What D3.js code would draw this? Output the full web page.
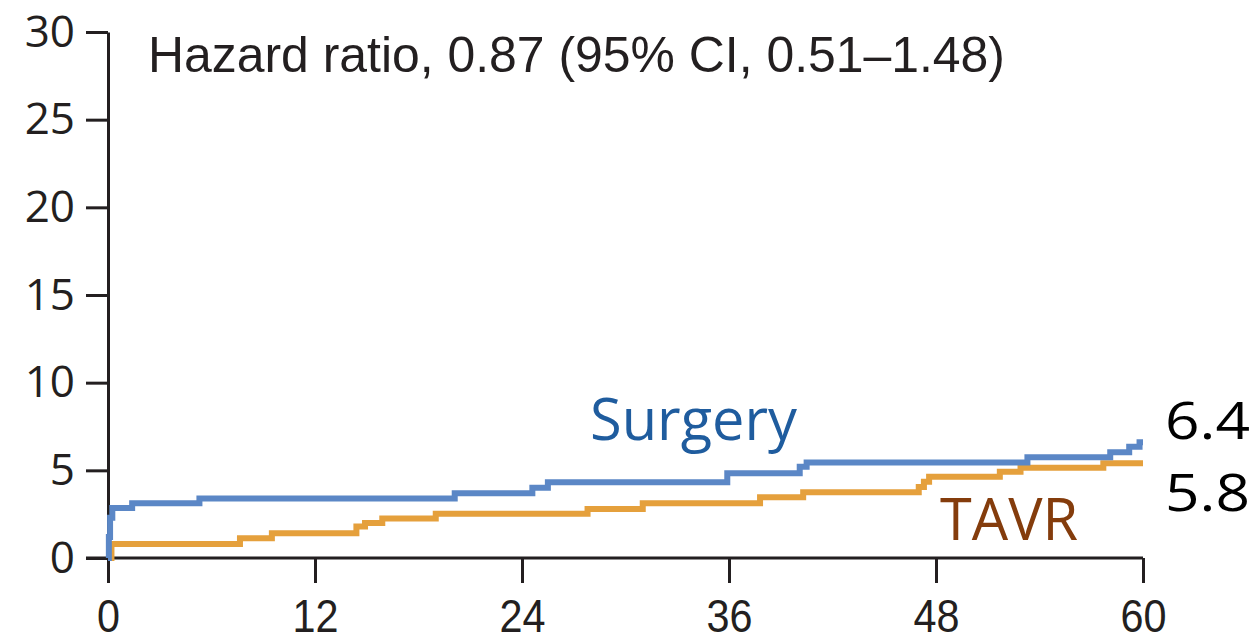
<!DOCTYPE html>
<html>
<head>
<meta charset="utf-8">
<script src="https://cdn.jsdelivr.net/npm/d3@7"></script>
<style>
  html, body { margin: 0; padding: 0; background: #fff; }
  svg { display: block; }
</style>
</head>
<body>
<svg id="chart" width="1257" height="642"></svg>
<script>
// ---- data ----
const xTicks = [0, 12, 24, 36, 48, 60];
const yTicks = [0, 5, 10, 15, 20, 25, 30];

const surgeryMonths = [0, 0.05, 0.12, 0.25, 1.4, 5.3, 20.1, 24.6, 25.5, 35.9, 40.1, 40.5, 53.3, 58.1, 59.2, 59.8, 60];
const surgeryValues = [0, 1.2, 2.3, 2.85, 3.12, 3.4, 3.69, 4.01, 4.32, 4.83, 5.21, 5.44, 5.74, 6.03, 6.35, 6.6, 6.6];

const tavrMonths = [0, 0.2, 7.65, 9.5, 14.4, 14.9, 15.9, 19.0, 27.8, 31.0, 37.8, 40.3, 47.0, 47.3, 47.6, 51.7, 52.9, 57.7, 60];
const tavrValues = [0, 0.8, 1.12, 1.41, 1.8, 2.0, 2.26, 2.53, 2.8, 3.12, 3.46, 3.75, 4.05, 4.35, 4.64, 4.92, 5.15, 5.4, 5.4];

const hazardText = "Hazard ratio, 0.87 (95% CI, 0.51\u20131.48)";
const surgeryLabel = "Surgery";
const tavrLabel = "TAVR";
const surgeryEnd = "6.4";
const tavrEnd = "5.8";

// ---- chart ----
const svg = d3.select("#chart");
const x = d3.scaleLinear().domain([0, 60]).range([108, 1143]);
const y = d3.scaleLinear().domain([0, 30]).range([558, 32]);
const axisColor = "#231f20";

// y axis
const yAxis = svg.append("g")
  .attr("transform", `translate(${x(0)},0)`)
  .call(d3.axisLeft(y).tickValues(yTicks).tickSize(22).tickSizeOuter(0).tickPadding(11));
yAxis.select(".domain").attr("stroke", axisColor).attr("stroke-width", 3);
yAxis.selectAll(".tick line").attr("stroke", axisColor).attr("stroke-width", 3);
yAxis.selectAll(".tick text")
  .attr("fill", "#231f20")
  .style("font-family", "'Open Sans', sans-serif")
  .style("font-size", "44px");

// x axis
const xAxis = svg.append("g")
  .attr("transform", `translate(0,${y(0)})`)
  .call(d3.axisBottom(x).tickValues(xTicks).tickSize(25).tickSizeOuter(0).tickPadding(0));
xAxis.select(".domain").remove();
xAxis.selectAll(".tick line").attr("stroke", axisColor).attr("stroke-width", 3);
xAxis.selectAll(".tick text")
  .attr("y", 74).attr("dy", 0)
  .attr("fill", "#231f20")
  .attr("textLength", d => String(d).length * 23)
  .attr("lengthAdjust", "spacingAndGlyphs")
  .style("font-family", "'Liberation Sans', Arial, sans-serif")
  .style("font-size", "46px");
svg.append("line")
  .attr("x1", x(0) - 22).attr("x2", x(60))
  .attr("y1", y(0)).attr("y2", y(0))
  .attr("stroke", axisColor).attr("stroke-width", 3);

// curves
const line = d3.line().curve(d3.curveStepAfter).x(d => x(d[0])).y(d => y(d[1]));
svg.append("path")
  .datum(d3.zip(tavrMonths, tavrValues))
  .attr("d", line)
  .attr("fill", "none")
  .attr("stroke", "#e5a03c")
  .attr("stroke-width", 6);
svg.append("path")
  .datum(d3.zip(surgeryMonths, surgeryValues))
  .attr("d", line)
  .attr("fill", "none")
  .attr("stroke", "#5b87c6")
  .attr("stroke-width", 6);

// texts
svg.append("text")
  .attr("x", 148).attr("y", 72)
  .attr("textLength", 857).attr("lengthAdjust", "spacingAndGlyphs")
  .attr("fill", "#231f20")
  .style("font-family", "'Liberation Sans', Arial, sans-serif")
  .style("font-size", "50px")
  .text(hazardText);

svg.append("text")
  .attr("x", 590).attr("y", 440)
  .attr("fill", "#1f5c9e")
  .attr("textLength", 207).attr("lengthAdjust", "spacingAndGlyphs")
  .style("font-family", "'Open Sans', sans-serif")
  .style("font-size", "58px")
  .text(surgeryLabel);

svg.append("text")
  .attr("x", 940).attr("y", 540)
  .attr("fill", "#843c0c")
  .attr("textLength", 138).attr("lengthAdjust", "spacingAndGlyphs")
  .style("font-family", "'Open Sans', sans-serif")
  .style("font-size", "58px")
  .text(tavrLabel);

svg.append("text")
  .attr("x", 1165).attr("y", 439)
  .attr("fill", "#000")
  .attr("textLength", 85).attr("lengthAdjust", "spacingAndGlyphs")
  .style("font-family", "'Open Sans', sans-serif")
  .style("font-size", "52px")
  .text(surgeryEnd);

svg.append("text")
  .attr("x", 1165).attr("y", 511)
  .attr("fill", "#000")
  .attr("textLength", 85).attr("lengthAdjust", "spacingAndGlyphs")
  .style("font-family", "'Open Sans', sans-serif")
  .style("font-size", "52px")
  .text(tavrEnd);
</script>
</body>
</html>
